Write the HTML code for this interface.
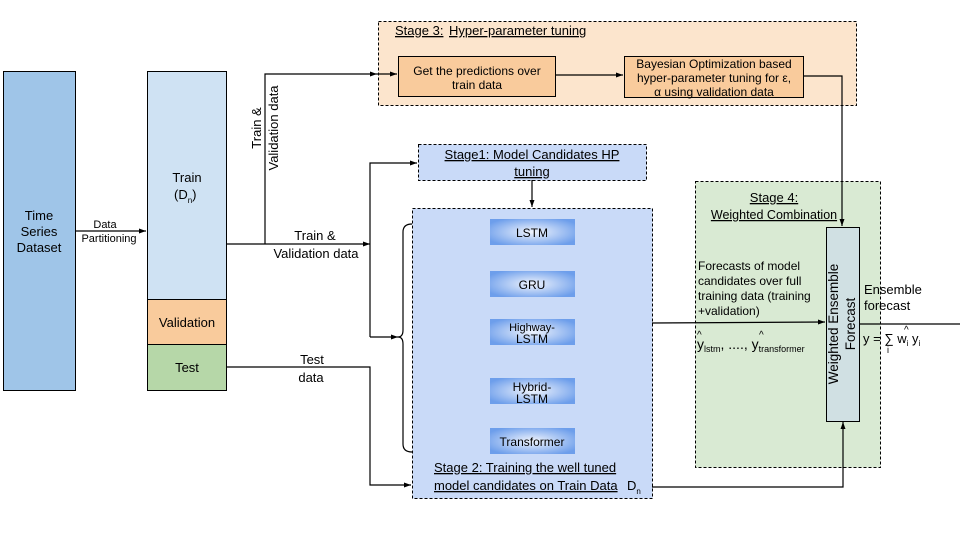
<!DOCTYPE html>
<html><head><meta charset="utf-8"><style>
body{margin:0;background:#fff}
svg{display:block;font-family:"Liberation Sans",sans-serif}
</style></head><body>
<svg width="960" height="540" viewBox="0 0 960 540" xmlns="http://www.w3.org/2000/svg">
<defs>
<marker id="a" markerWidth="8" markerHeight="8" refX="7" refY="4" orient="auto" markerUnits="userSpaceOnUse"><path d="M0,1.5 L7,4 L0,6.5 Z" fill="#000"/></marker>
<radialGradient id="g" cx="0.5" cy="0.5" r="0.6"><stop offset="0" stop-color="#f0f4fd"/><stop offset="1" stop-color="#6d9eeb"/></radialGradient>
</defs>
<rect x="378.5" y="21.5" width="478" height="84" fill="#fce5cd" stroke="#000" stroke-dasharray="3,2"/>
<rect x="418.5" y="144.5" width="228" height="36" fill="#c9daf8" stroke="#000" stroke-dasharray="3,2"/>
<rect x="412.5" y="208.5" width="240" height="290" fill="#c9daf8" stroke="#000" stroke-dasharray="3,2"/>
<rect x="695.5" y="181.5" width="185" height="286" fill="#d9ead3" stroke="#000" stroke-dasharray="3,2"/>
<rect x="3.5" y="71.5" width="72" height="319" fill="#9fc5e8" stroke="#000"/>
<rect x="147.5" y="71.5" width="79" height="228" fill="#cfe2f3" stroke="#000"/>
<rect x="147.5" y="299.5" width="79" height="45" fill="#f9cb9c" stroke="#000"/>
<rect x="147.5" y="344.5" width="79" height="46" fill="#b6d7a8" stroke="#000"/>
<g font-size="13" text-anchor="middle" fill="#000">
<text x="39" y="220">Time</text><text x="39" y="236">Series</text><text x="39" y="252">Dataset</text>
<text x="187" y="182">Train</text>
<text x="174" y="199" text-anchor="start">(D<tspan font-size="8" dy="4">n</tspan><tspan dy="-4">)</tspan></text>
<text x="187" y="327">Validation</text>
<text x="187" y="372">Test</text>
</g>
<g font-size="11" text-anchor="middle"><text x="105" y="228">Data</text><text x="109" y="242">Partitioning</text></g>
<g stroke="#000" fill="none" stroke-width="1.2">
<line x1="75" y1="231" x2="146" y2="231" marker-end="url(#a)"/>
<polyline points="226,244 370,244" marker-end="url(#a)"/>
<polyline points="265,244 265,74 377,74" marker-end="url(#a)"/>
<line x1="377" y1="74" x2="397" y2="74" marker-end="url(#a)"/>
<line x1="555" y1="75" x2="623" y2="75" marker-end="url(#a)"/>
<polyline points="803,76 842,76 842,226" marker-end="url(#a)"/>
<polyline points="370,337 370,163 417,163" marker-end="url(#a)"/>
<line x1="370" y1="337" x2="398" y2="337" marker-end="url(#a)"/>
<line x1="532" y1="180" x2="532" y2="207" marker-end="url(#a)"/>
<polyline points="226,367 370,367 370,485 411,485" marker-end="url(#a)"/>
<line x1="652" y1="323" x2="825" y2="322" marker-end="url(#a)"/>
<line x1="859" y1="324" x2="960" y2="324"/>
<polyline points="652,487 843,487 843,422" marker-end="url(#a)"/>
<path d="M412,224 Q403,224 403,232 L403,330 Q403,337 398,337 Q403,337 403,344 L403,444 Q403,452 412,452"/>
</g>
<g font-size="13" text-anchor="middle">
<text x="315" y="240">Train &amp;</text><text x="316" y="258">Validation data</text>
<text x="312" y="364">Test</text><text x="311" y="382">data</text>
<text transform="translate(261,128) rotate(-90)">Train &amp;</text>
<text transform="translate(278,128) rotate(-90)">Validation data</text>
</g>
<rect x="398.5" y="56.5" width="157" height="40" fill="#f9cb9c" stroke="#000"/>
<rect x="624.5" y="56.5" width="179" height="41" fill="#f9cb9c" stroke="#000"/>
<g font-size="12" text-anchor="middle">
<text x="477" y="75">Get the predictions over</text><text x="477" y="89">train data</text>
<text x="714" y="68">Bayesian Optimization based</text><text x="714" y="82">hyper-parameter tuning for ε,</text><text x="714" y="96">α using validation data</text>
</g>
<g font-size="13" text-decoration="underline">
<text x="395" y="35">Stage 3:</text><text x="449" y="35">Hyper-parameter tuning</text>
<text x="532" y="159" text-anchor="middle">Stage1: Model Candidates HP</text>
<text x="532" y="176" text-anchor="middle">tuning</text>
<text x="774" y="202" text-anchor="middle">Stage 4:</text>
<text x="774" y="219" text-anchor="middle" font-size="12.5">Weighted Combination</text>
<text x="434" y="472">Stage 2: Training the well tuned</text>
<text x="434" y="490">model candidates on Train Data</text>
</g>
<text x="627" y="490" font-size="13">D<tspan font-size="8" dy="4">n</tspan></text>
<g fill="url(#g)">
<rect x="490" y="219" width="85" height="26"/><rect x="490" y="271" width="85" height="26"/>
<rect x="490" y="319" width="85" height="26"/><rect x="490" y="378" width="85" height="26"/>
<rect x="490" y="428" width="85" height="26"/>
</g>
<g text-anchor="middle" font-size="12">
<text x="532" y="237">LSTM</text><text x="532" y="289">GRU</text>
<text x="532" y="331" font-size="11">Highway-</text><text x="532" y="343">LSTM</text>
<text x="532" y="391">Hybrid-</text><text x="532" y="403">LSTM</text>
<text x="532" y="446">Transformer</text>
</g>
<rect x="826.5" y="227.5" width="33" height="194" fill="#d0e0e3" stroke="#000"/>
<g font-size="13.5" text-anchor="middle">
<text transform="translate(838,324) rotate(-90)">Weighted Ensemble</text>
<text transform="translate(855,324) rotate(-90)">Forecast</text>
</g>
<g font-size="12">
<text x="698" y="270">Forecasts of model</text><text x="698" y="285">candidates over full</text>
<text x="698" y="300">training data (training</text><text x="698" y="315">+validation)</text>
</g>
<g font-size="14">
<text x="697" y="349">y<tspan font-size="9" dy="3">lstm</tspan><tspan dy="-3">, ...., y</tspan><tspan font-size="9" dy="3">transformer</tspan></text>
<text x="697" y="338" font-size="10">^</text><text x="759" y="338" font-size="10">^</text>
<text x="864" y="294" font-size="13">Ensemble</text><text x="864" y="310" font-size="13">forecast</text>
<text x="863" y="343" font-size="13">y = ∑ w<tspan font-size="8" dy="3">i</tspan><tspan dy="-3"> y</tspan><tspan font-size="8" dy="3">i</tspan></text>
<text x="887" y="353" font-size="9">i</text>
<text x="904" y="333" font-size="10">^</text>
</g>
</svg>
</body></html>
